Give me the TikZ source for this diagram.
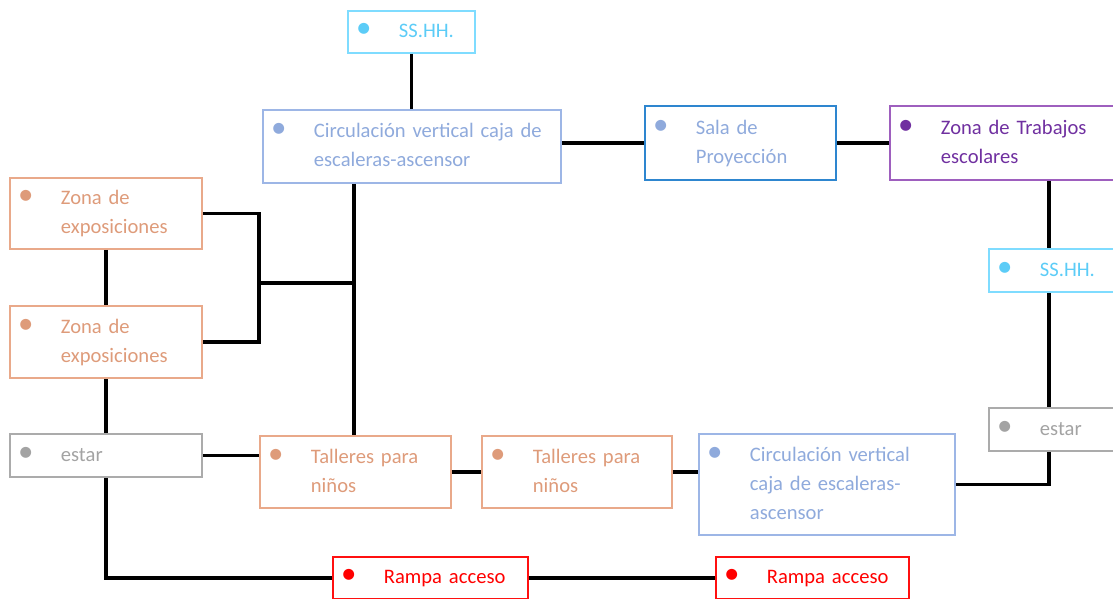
\documentclass[tikz,border=0pt]{standalone}
\usepackage{fontspec}
\setmainfont{Carlito}
\usetikzlibrary{calc}
\definecolor{cynB}{HTML}{7FDCFF}
\definecolor{cynT}{HTML}{5CCCF7}
\definecolor{cirB}{HTML}{9DB6E6}
\definecolor{cirT}{HTML}{8FAADC}
\definecolor{salB}{HTML}{2E86CF}
\definecolor{purB}{HTML}{9E5FBE}
\definecolor{purT}{HTML}{7030A0}
\definecolor{orgB}{HTML}{E9A98A}
\definecolor{orgT}{HTML}{DE9B7A}
\definecolor{gryB}{HTML}{ABABAB}
\definecolor{gryT}{HTML}{A3A3A3}
\definecolor{redB}{HTML}{FF1010}
\definecolor{redT}{HTML}{FF0000}
\newcommand\bul{\makebox[32pt][c]{\scalebox{1.5}{\textbullet}}}
\newcommand\itm[1]{\begin{tabular}{@{}l@{\hspace{19pt}}l@{}}#1\end{tabular}}
\tikzset{
  roombox/.style={draw, line width=1.8pt, inner xsep=0pt, inner ysep=0pt,
    anchor=north west, align=left, font=\fontsize{20.6}{29}\selectfont},
  conn/.style={line width=3.2pt, black}
}
\begin{document}
\begin{tikzpicture}[x=1pt,y=-1pt]
\useasboundingbox (0,0) rectangle (1113,599);
\clip (0,0) rectangle (1113,599);
% nodes
\node[roombox, draw=cynB, text=cynT, text width=127pt, minimum height=42pt] (ssA) at (347,10) {\itm{\bul & SS.HH.}};
\node[roombox, draw=cirB, text=cirT, text width=298pt, minimum height=73pt] (circA) at (262,109) {\itm{\bul & Circulación vertical caja de\\ & escaleras-ascensor}};
\node[roombox, draw=salB, text=cirT, text width=191pt, minimum height=74pt] (sala) at (644,105) {\itm{\bul & Sala de\\ & Proyección}};
\node[roombox, draw=purB, text=purT, text width=240pt, minimum height=74pt] (zona) at (889,105) {\itm{\bul & Zona de Trabajos\\ & escolares}};
\node[roombox, draw=cynB, text=cynT, text width=140pt, minimum height=43pt] (ssB) at (988,248) {\itm{\bul & SS.HH.}};
\node[roombox, draw=gryB, text=gryT, text width=140pt, minimum height=43pt] (estarB) at (988,407) {\itm{\bul & estar}};
\node[roombox, draw=orgB, text=orgT, text width=192pt, minimum height=71pt] (exp1) at (9,177) {\itm{\bul & Zona de\\ & exposiciones}};
\node[roombox, draw=orgB, text=orgT, text width=192pt, minimum height=72pt] (exp2) at (9,305) {\itm{\bul & Zona de\\ & exposiciones}};
\node[roombox, draw=gryB, text=gryT, text width=192pt, minimum height=43pt] (estarA) at (9,433) {\itm{\bul & estar}};
\node[roombox, draw=orgB, text=orgT, text width=191pt, minimum height=72pt] (tal1) at (259,435) {\itm{\bul & Talleres para\\ & niños}};
\node[roombox, draw=orgB, text=orgT, text width=190pt, minimum height=72pt] (tal2) at (481,435) {\itm{\bul & Talleres para\\ & niños}};
\node[roombox, draw=cirB, text=cirT, text width=256pt, minimum height=101pt] (circB) at (698,433) {\itm{\bul & Circulación vertical\\ & caja de escaleras-\\ & ascensor}};
\node[roombox, draw=redB, text=redT, text width=195pt, minimum height=42pt] (ramp1) at (332,556) {\itm{\bul & Rampa acceso}};
\node[roombox, draw=redB, text=redT, text width=193pt, minimum height=42pt] (ramp2) at (715,556) {\itm{\bul & Rampa acceso}};
% helper coordinates
\coordinate (vt) at ([xshift=95pt]tal1.north west);
\coordinate (fk) at (259,283);
\coordinate (rx) at ([xshift=61pt]ssB.north west);
% connectors
\draw[conn] (ssA.south) -- (ssA.south |- circA.north);
\draw[conn] (circA.east |- sala.west) -- (sala.west);
\draw[conn] (sala.east) -- (zona.west);
\draw[conn] (rx |- zona.south) -- (rx |- ssB.north);
\draw[conn] (rx |- ssB.south) -- (rx |- estarB.north);
\draw[conn] (rx |- estarB.south) |- (circB.east);
\draw[conn] (tal2.east) -- (tal2.east -| circB.west);
\draw[conn] (tal1.east) -- (tal2.west);
\draw[conn] (estarA.east) -- (estarA.east -| tal1.west);
\draw[conn] (vt |- circA.south) -- (vt);
\draw[conn] (exp1.east) -| (fk |- exp2.east) -- (exp2.east);
\draw[conn] (fk) -- (fk -| vt);
\draw[conn] (exp1.south) -- (exp2.north);
\draw[conn] (exp2.south) -- (estarA.north);
\draw[conn] (estarA.south) |- (ramp1.west);
\draw[conn] (ramp1.east) -- (ramp2.west);
\end{tikzpicture}
\end{document}
